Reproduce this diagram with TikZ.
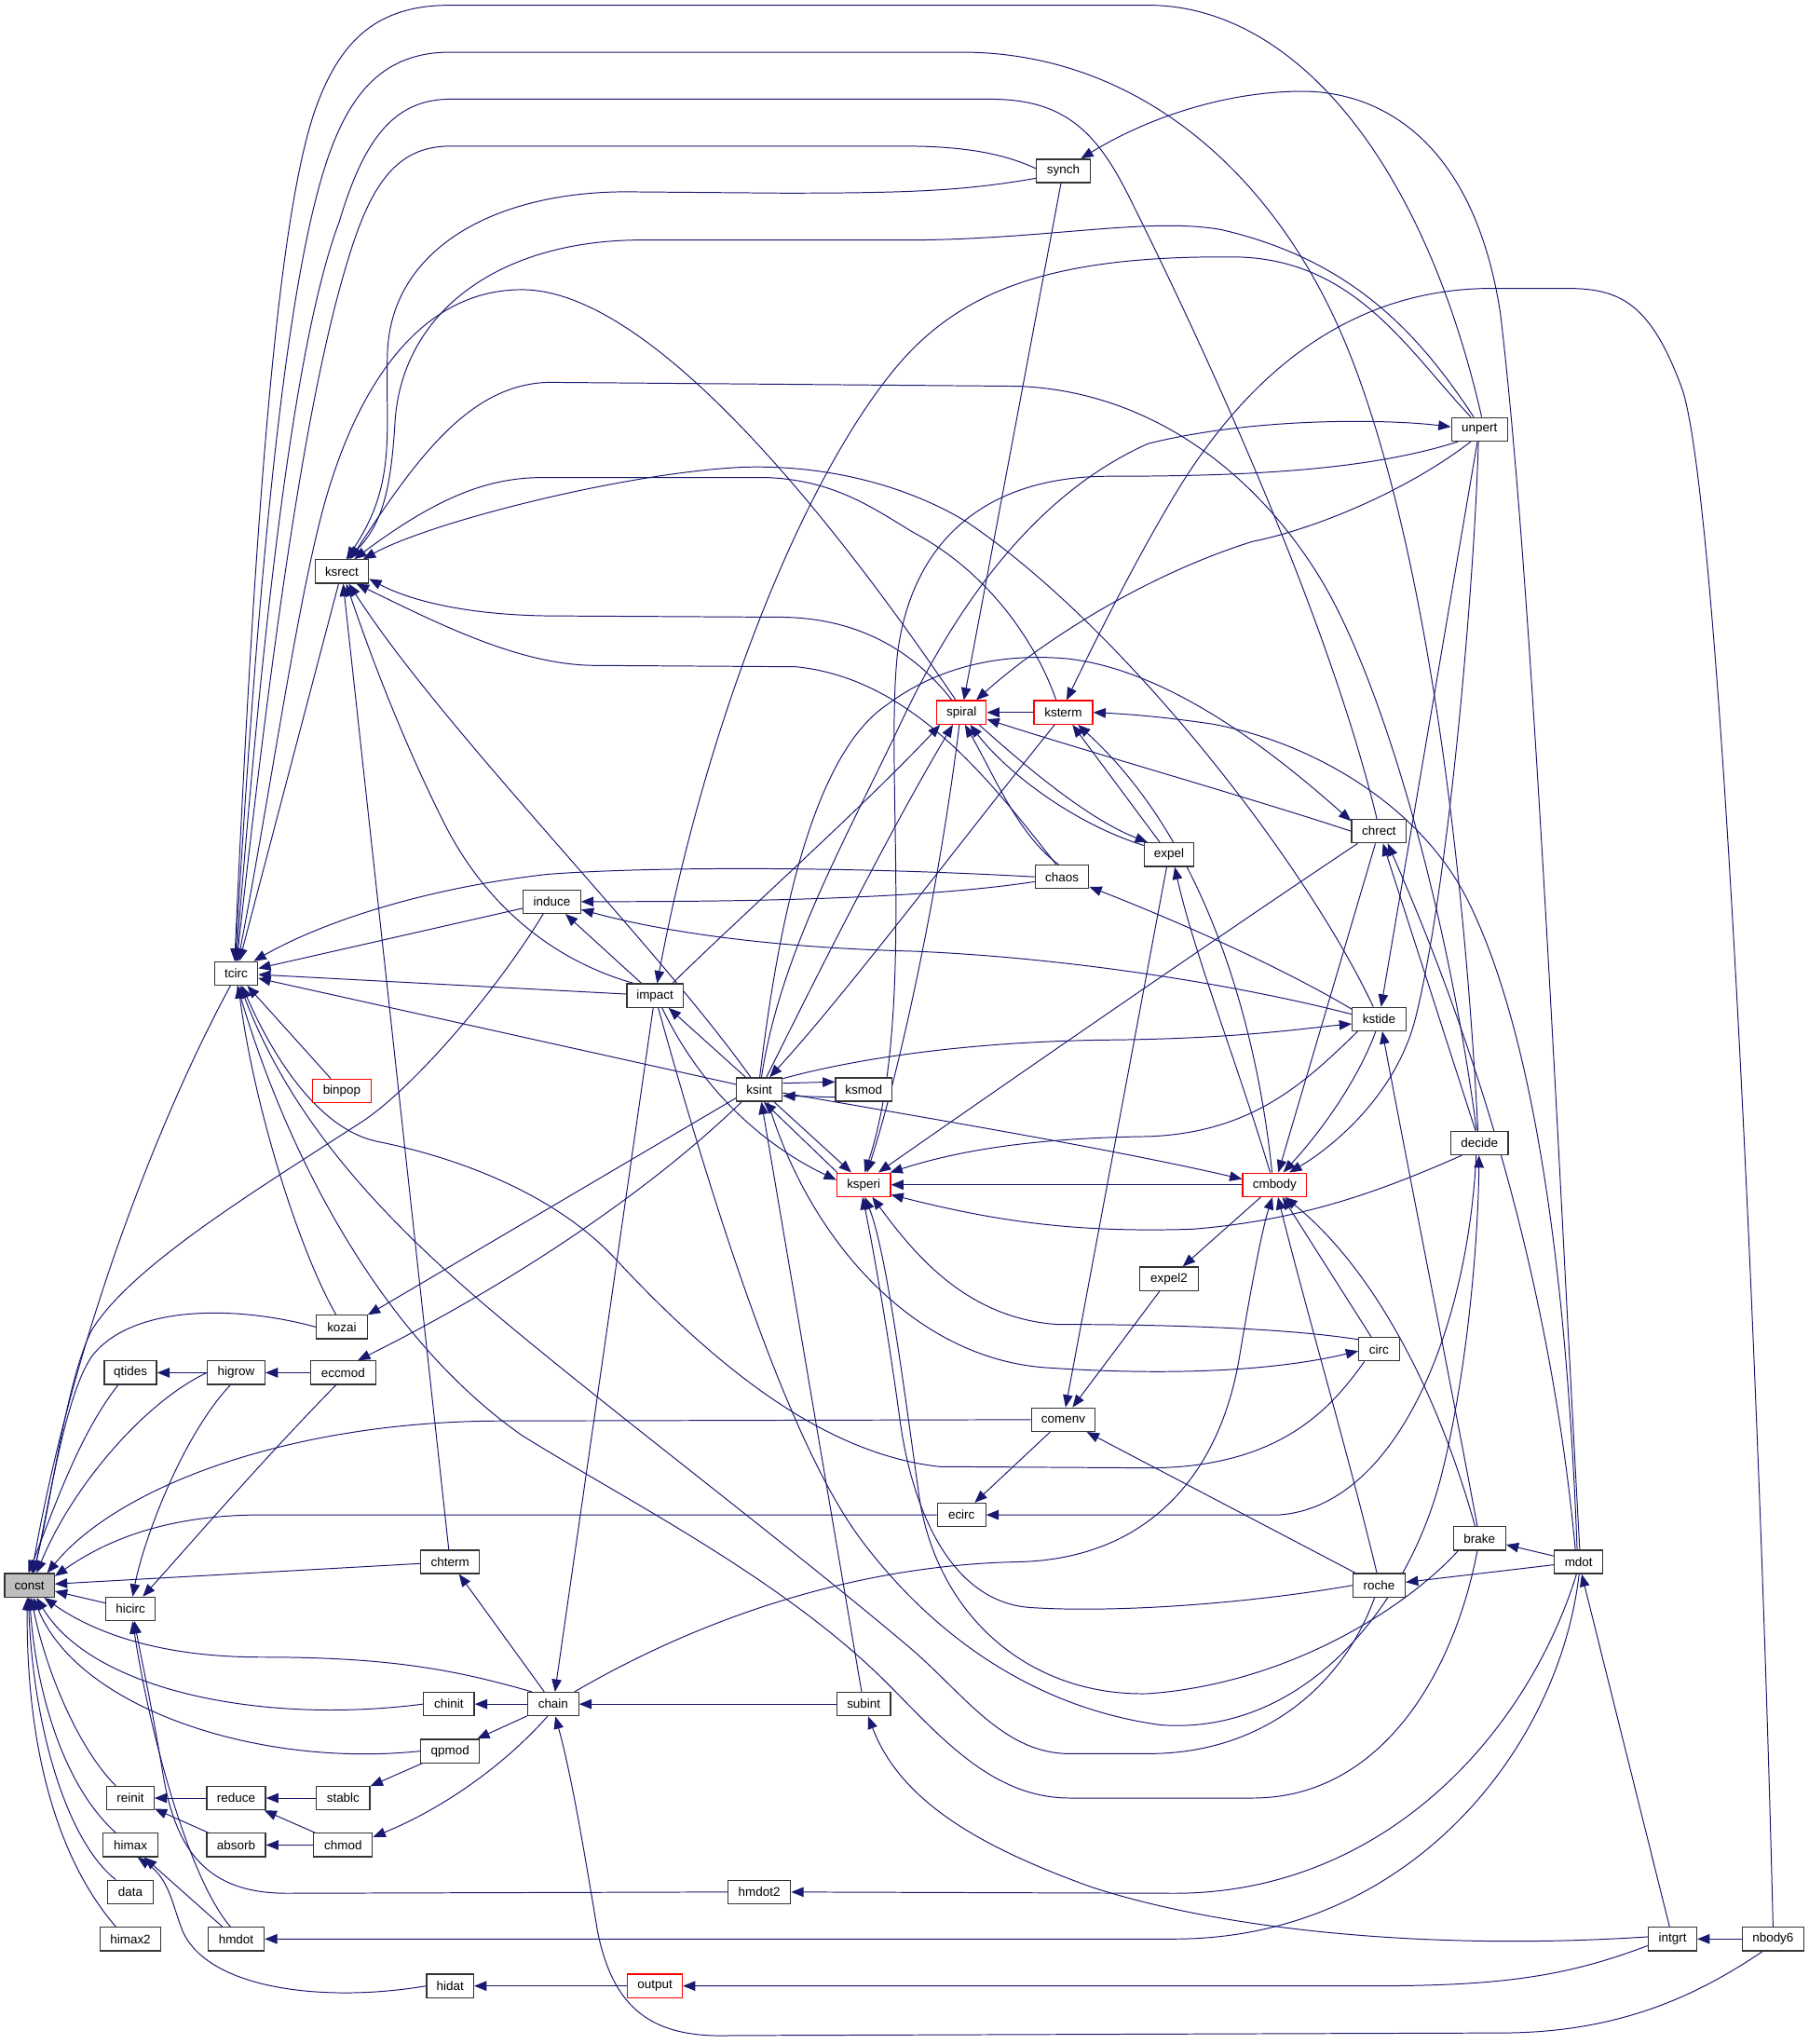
\documentclass[tikz,border=0pt]{standalone}
\usepackage{fontspec}
\setmainfont{Liberation Sans}
\usetikzlibrary{arrows.meta,backgrounds}
\definecolor{edgec}{HTML}{191970}
\definecolor{constfill}{HTML}{BFBFBF}
\begin{document}
\begin{tikzpicture}[x=1pt,y=-1pt,
  fn/.style={draw=black!80, fill=white, line width=0.9pt, minimum height=18pt, inner sep=0pt, font=\fontsize{9.6}{10}\selectfont, text=black},
  hl/.style={fn, draw=red},
  e/.style={draw=edgec, line width=0.7pt, -{Triangle[length=9.5pt,width=7.5pt]}}]
\useasboundingbox (0,0) rectangle (1386.4,1566.5);
% nodes
\node[fn, fill=constfill, minimum width=38pt] (const) at (22.6,1215) {const};
\node[fn, minimum width=33pt] (tcirc) at (181,746) {tcirc};
\node[fn, minimum width=41pt] (ksrect) at (262,438) {ksrect};
\node[fn, minimum width=41pt] (synch) at (815,131) {synch};
\node[fn, minimum width=43pt] (unpert) at (1134,329) {unpert};
\node[hl, minimum width=38pt] (spiral) at (737,546) {spiral};
\node[hl, minimum width=45pt] (ksterm) at (815,546) {ksterm};
\node[fn, minimum width=42pt] (chrect) at (1057,637) {chrect};
\node[fn, minimum width=38pt] (expel) at (896,655) {expel};
\node[fn, minimum width=41pt] (chaos) at (814,672) {chaos};
\node[fn, minimum width=44pt] (induce) at (423,691) {induce};
\node[fn, minimum width=43pt] (impact) at (502,763) {impact};
\node[fn, minimum width=41pt] (kstide) at (1057,781) {kstide};
\node[fn, minimum width=35pt] (ksint) at (582,835) {ksint};
\node[fn, minimum width=43pt] (ksmod) at (662,835) {ksmod};
\node[hl, minimum width=45pt] (binpop) at (262,836) {binpop};
\node[fn, minimum width=44pt] (decide) at (1134,876) {decide};
\node[hl, minimum width=41pt] (ksperi) at (662,908) {ksperi};
\node[hl, minimum width=49pt] (cmbody) at (977,908) {cmbody};
\node[fn, minimum width=45pt] (expel2) at (896,980) {expel2};
\node[fn, minimum width=39pt] (kozai) at (262,1017) {kozai};
\node[fn, minimum width=31pt] (circ) at (1057,1034) {circ};
\node[fn, minimum width=40pt] (qtides) at (100,1052) {qtides};
\node[fn, minimum width=44pt] (higrow) at (181,1052) {higrow};
\node[fn, minimum width=50pt] (eccmod) at (263,1052) {eccmod};
\node[fn, minimum width=49pt] (comenv) at (815,1088) {comenv};
\node[fn, minimum width=37pt] (ecirc) at (737,1161) {ecirc};
\node[fn, minimum width=45pt] (chterm) at (345,1197) {chterm};
\node[fn, minimum width=40pt] (brake) at (1134,1179) {brake};
\node[fn, minimum width=37pt] (mdot) at (1210,1197) {mdot};
\node[fn, minimum width=40pt] (roche) at (1057,1215) {roche};
\node[fn, minimum width=38pt] (hicirc) at (100,1233) {hicirc};
\node[fn, minimum width=39pt] (chinit) at (344,1306) {chinit};
\node[fn, minimum width=39pt] (chain) at (424,1306) {chain};
\node[fn, minimum width=41pt] (subint) at (662,1306) {subint};
\node[fn, minimum width=45pt] (qpmod) at (345,1342) {qpmod};
\node[fn, minimum width=36pt] (reinit) at (100,1378) {reinit};
\node[fn, minimum width=45pt] (reduce) at (181,1378) {reduce};
\node[fn, minimum width=41pt] (stablc) at (263,1378) {stablc};
\node[fn, minimum width=42pt] (himax) at (100,1414) {himax};
\node[fn, minimum width=45pt] (absorb) at (181,1414) {absorb};
\node[fn, minimum width=45pt] (chmod) at (263,1414) {chmod};
\node[fn, minimum width=35pt] (data) at (100,1450) {data};
\node[fn, minimum width=48pt] (hmdot2) at (582,1450) {hmdot2};
\node[fn, minimum width=46pt] (himax2) at (100,1486) {himax2};
\node[fn, minimum width=43pt] (hmdot) at (181,1486) {hmdot};
\node[fn, minimum width=37pt] (intgrt) at (1282,1486) {intgrt};
\node[fn, minimum width=47pt] (nbody6) at (1359,1486) {nbody6};
\node[fn, minimum width=36pt] (hidat) at (345,1522) {hidat};
\node[hl, minimum width=42pt] (output) at (502,1522) {output};

\begin{scope}[on background layer]
% ---- into const
\draw[e] (tcirc.-115) .. controls (120,860) and (55,1030) .. (const.80);
\draw[e] (kozai.west) .. controls (180,1000) and (100,1000) .. (70,1040) .. controls (50,1070) and (38,1150) .. (const.70);
\draw[e] (induce.-125) .. controls (380,760) and (320,830) .. (280,858) .. controls (200,910) and (100,970) .. (70,1020) .. controls (50,1060) and (38,1160) .. (const.75);
\draw[e] (qtides.-135) .. controls (60,1100) and (40,1160) .. (const.95);
\draw[e] (higrow.west) .. controls (110,1075) and (55,1140) .. (const.60);
\draw[e] (comenv.west) -- (380,1089) .. controls (220,1090) and (90,1140) .. (const.35);
\draw[e] (ecirc.west) -- (200,1161) .. controls (120,1161) and (75,1185) .. (const.20);
\draw[e] (chterm) -- (const);
\draw[e] (hicirc) -- (const);
\draw[e] (chain.150) .. controls (350,1280) and (300,1270) .. (200,1270) .. controls (120,1270) and (70,1250) .. (const.-40);
\draw[e] (chinit.west) .. controls (200,1322) and (70,1295) .. (const.-60);
\draw[e] (qpmod.west) .. controls (200,1355) and (60,1310) .. (const.-72);
\draw[e] (reinit.140) .. controls (60,1340) and (35,1280) .. (const.-82);
\draw[e] (himax.140) .. controls (50,1370) and (28,1300) .. (const.-90);
\draw[e] (data.140) .. controls (50,1410) and (25,1320) .. (const.-95);
\draw[e] (himax2.140) .. controls (40,1420) and (20,1330) .. (const.-100);
% ---- into tcirc
\draw[e] (unpert.80) .. controls (1090,120) and (990,4) .. (880,4) -- (345,4) .. controls (295,4) and (265,25) .. (245,75) .. controls (214,150) and (196,380) .. (tcirc.97);
\draw[e] (decide.97) .. controls (1120,620) and (1085,390) .. (1030,260) .. controls (975,130) and (870,40) .. (737,40) -- (345,40) .. controls (295,40) and (268,70) .. (250,125) .. controls (222,210) and (200,400) .. (tcirc.94);
\draw[e] (chrect.100) .. controls (1020,480) and (930,280) .. (865,150) .. controls (840,100) and (815,76) .. (759,76) -- (345,76) .. controls (300,76) and (278,110) .. (260,170) .. controls (230,250) and (205,430) .. (tcirc.90);
\draw[e] (synch.175) .. controls (770,118) and (740,112) .. (693,112) -- (345,112) .. controls (305,112) and (285,140) .. (268,195) .. controls (238,290) and (212,460) .. (tcirc.87);
\draw[e] (ksrect) -- (tcirc);
\draw[e] (spiral.115) .. controls (640,400) and (500,222) .. (400,222) .. controls (320,222) and (270,300) .. (245,400) .. controls (225,480) and (205,620) .. (tcirc.82);
\draw[e] (induce) -- (tcirc);
\draw[e] (chaos.west) .. controls (650,664) and (500,664) .. (420,670) .. controls (330,680) and (250,705) .. (tcirc.35);
\draw[e] (impact) -- (tcirc);
\draw[e] (ksint) -- (tcirc);
\draw[e] (binpop) -- (tcirc);
\draw[e] (kozai.115) .. controls (230,960) and (195,850) .. (tcirc.-80);
\draw[e] (circ.-140) .. controls (1020,1080) and (980,1125) .. (880,1125) -- (720,1124) .. controls (640,1115) and (560,1060) .. (471,964) .. controls (420,910) and (340,885) .. (290,875) .. controls (240,865) and (205,800) .. (tcirc.-65);
\draw[e] (roche.-110) .. controls (1030,1290) and (970,1344) .. (880,1344) -- (820,1344) .. controls (770,1344) and (740,1300) .. (700,1265) .. controls (600,1180) and (440,1060) .. (360,990) .. controls (280,920) and (220,850) .. (tcirc.-72);
\draw[e] (brake.-100) .. controls (1115,1280) and (1060,1378) .. (960,1378) -- (820,1378) .. controls (760,1378) and (720,1330) .. (680,1290) .. controls (600,1210) and (480,1150) .. (400,1100) .. controls (300,1030) and (225,900) .. (tcirc.-85);
% ---- into ksrect
\draw[e] (synch.195) .. controls (740,146) and (700,148) .. (600,148) -- (480,147) .. controls (380,147) and (300,190) .. (297,270) .. controls (295,330) and (305,370) .. (ksrect.70);
\draw[e] (unpert.115) .. controls (1090,260) and (1040,200) .. (936,176) .. controls (880,166) and (800,184) .. (693,184) -- (486,184) .. controls (380,186) and (310,240) .. (303,320) .. controls (300,370) and (295,400) .. (ksrect.65);
\draw[e] (decide.103) .. controls (1110,700) and (1060,520) .. (1010,440) .. controls (960,360) and (880,300) .. (781,296) -- (420,293) .. controls (360,295) and (320,350) .. (ksrect.55);
\draw[e] (ksterm.120) .. controls (795,495) and (760,440) .. (700,408) .. controls (670,390) and (640,368) .. (588,366) -- (415,366) .. controls (370,366) and (330,385) .. (ksrect.45);
\draw[e] (kstide.115) .. controls (1000,660) and (860,480) .. (741,400) .. controls (700,375) and (640,356) .. (570,358) .. controls (480,362) and (330,400) .. (ksrect.30);
\draw[e] (spiral.128) .. controls (705,505) and (665,474) .. (600,473) -- (420,472) .. controls (350,471) and (310,458) .. (ksrect.-15);
\draw[e] (chaos.115) .. controls (760,600) and (700,520) .. (610,511) -- (457,510) .. controls (400,510) and (340,480) .. (ksrect.-40);
\draw[e] (chterm) -- (ksrect);
\draw[e] (impact.150) .. controls (420,735) and (370,690) .. (340,630) .. controls (315,580) and (290,520) .. (ksrect.-70);
\draw[e] (ksint.125) .. controls (500,720) and (340,560) .. (ksrect.-60);
% ---- into spiral
\draw[e] (ksterm) -- (spiral);
\draw[e] (synch) -- (spiral);
\draw[e] (unpert.-125) .. controls (1080,375) and (1010,405) .. (960,415) .. controls (880,440) and (800,490) .. (spiral.40);
\draw[e] (chrect.west) .. controls (960,612) and (830,575) .. (spiral.-15);
\draw[e] (ksint.60) .. controls (620,760) and (680,640) .. (spiral.-125);
\draw[e] (impact.35) .. controls (570,700) and (660,620) .. (spiral.-150);
\draw[e] (expel.160) .. controls (820,630) and (770,590) .. (spiral.-55);
\draw[e] (chaos.105) .. controls (780,640) and (760,590) .. (spiral.-75);
\draw[e] (spiral.-100) .. controls (720,680) and (690,820) .. (ksperi.75);
% ---- ksterm
\draw[e] (nbody6.north) .. controls (1350,1100) and (1320,400) .. (1290,300) .. controls (1265,230) and (1240,221) .. (1200,221) -- (1144,221) .. controls (1040,221) and (960,280) .. (900,380) .. controls (870,430) and (840,490) .. (ksterm.75);
\draw[e] (mdot.97) .. controls (1198,900) and (1160,760) .. (1125,690) .. controls (1090,620) and (1010,570) .. (930,555) .. controls (890,549) and (860,547) .. (ksterm.east);
\draw[e] (expel) -- (ksterm);
\draw[e] (cmbody.102) .. controls (965,800) and (930,650) .. (ksterm.-40);
\draw[e] (ksterm.-125) .. controls (740,640) and (650,760) .. (ksint.50);
% ---- expel, chaos, induce
\draw[e] (spiral.-35) .. controls (800,600) and (840,630) .. (expel.150);
\draw[e] (cmbody.110) .. controls (950,820) and (915,730) .. (expel.-65);
\draw[e] (expel) -- (comenv);
\draw[e] (expel2) -- (comenv);
\draw[e] (cmbody) -- (expel2);
\draw[e] (kstide.160) .. controls (980,740) and (900,705) .. (chaos.-20);
\draw[e] (chaos.-170) .. controls (700,690) and (550,691) .. (induce.east);
\draw[e] (kstide.170) .. controls (950,755) and (820,734) .. (700,729) .. controls (580,726) and (500,712) .. (induce.-15);
\draw[e] (impact) -- (induce);
% ---- impact
\draw[e] (unpert.125) .. controls (1080,270) and (1040,200) .. (950,197) .. controls (800,195) and (730,225) .. (680,290) .. controls (610,380) and (540,560) .. (impact.80);
\draw[e] (ksint) -- (impact);
\draw[e] (impact.-60) .. controls (540,840) and (590,880) .. (ksperi.170);
\draw[e] (impact) -- (chain);
\draw[e] (impact.-75) .. controls (540,900) and (600,1100) .. (660,1180) .. controls (720,1260) and (800,1310) .. (890,1322) .. controls (1000,1330) and (1080,1230) .. (1105,1130) .. controls (1125,1050) and (1133,950) .. (decide.-92);
% ---- ksint
\draw[e] (ksint.15) -- (ksmod.165);
\draw[e] (ksmod.-165) -- (ksint.-15);
\draw[e] (ksint.-40) -- (ksperi.135);
\draw[e] (ksperi.155) -- (ksint.-70);
\draw[e] (subint) -- (ksint);
\draw[e] (ksint.25) .. controls (660,810) and (750,798) .. (850,797) .. controls (950,796) and (1000,788) .. (kstide.-170);
\draw[e] (ksint.-8) .. controls (700,855) and (850,880) .. (cmbody.170);
\draw[e] (ksint.-55) .. controls (620,950) and (700,1040) .. (800,1048) .. controls (900,1055) and (980,1050) .. (circ.-175);
\draw[e] (ksint.-145) .. controls (480,930) and (360,1000) .. (eccmod.40);
\draw[e] (ksint.-160) -- (kozai.25);
\draw[e] (ksint.80) .. controls (598,730) and (650,640) .. (690,555) .. controls (730,470) and (790,380) .. (880,340) .. controls (960,320) and (1060,321) .. (unpert.175);
\draw[e] (ksint.88) .. controls (595,720) and (620,580) .. (680,540) .. controls (720,510) and (770,500) .. (820,505) .. controls (900,515) and (980,580) .. (chrect.160);
% ---- ksperi
\draw[e] (unpert.-150) .. controls (1050,360) and (960,365) .. (850,365) .. controls (760,365) and (700,410) .. (688,500) .. controls (678,590) and (702,780) .. (ksperi.85);
\draw[e] (kstide.-150) .. controls (1000,830) and (960,868) .. (880,871) .. controls (800,872) and (740,880) .. (ksperi.25);
\draw[e] (cmbody) -- (ksperi);
\draw[e] (decide.-145) .. controls (1060,912) and (1000,935) .. (914,942) .. controls (820,945) and (760,935) .. (ksperi.-20);
\draw[e] (circ.155) .. controls (980,1017) and (880,1015) .. (810,1015) .. controls (740,1010) and (700,960) .. (ksperi.-55);
\draw[e] (roche.west) .. controls (950,1230) and (850,1236) .. (790,1232) .. controls (730,1228) and (700,1160) .. (690,1090) .. controls (682,1030) and (670,960) .. (ksperi.-95);
\draw[e] (brake.-150) .. controls (1080,1230) and (990,1290) .. (880,1298) .. controls (790,1300) and (720,1240) .. (705,1150) .. controls (695,1080) and (680,960) .. (ksperi.-85);
\draw[e] (chrect.-150) .. controls (960,700) and (800,810) .. (ksperi.40);
% ---- cmbody
\draw[e] (chrect) -- (cmbody);
\draw[e] (kstide.-105) .. controls (1040,830) and (1010,870) .. (cmbody.55);
\draw[e] (unpert.-95) .. controls (1130,450) and (1110,680) .. (1085,780) .. controls (1070,840) and (1020,880) .. (cmbody.40);
\draw[e] (chain.30) .. controls (520,1250) and (640,1200) .. (780,1197) .. controls (880,1195) and (935,1130) .. (950,1040) .. controls (960,980) and (968,940) .. (cmbody.-100);
\draw[e] (roche.100) .. controls (1035,1120) and (1000,1000) .. (cmbody.-75);
\draw[e] (circ) -- (cmbody);
\draw[e] (brake.110) .. controls (1100,1060) and (1050,970) .. (cmbody.-50);
% ---- kstide, chrect, decide
\draw[e] (unpert) -- (kstide);
\draw[e] (brake.100) .. controls (1110,1050) and (1080,900) .. (kstide.-75);
\draw[e] (decide) -- (chrect);
\draw[e] (mdot.105) .. controls (1190,1000) and (1140,820) .. (chrect.-55);
\draw[e] (decide.-105) .. controls (1125,1020) and (1070,1155) .. (980,1161) -- (ecirc.east);
% ---- comenv, mdot
\draw[e] (roche) -- (comenv);
\draw[e] (comenv) -- (ecirc);
\draw[e] (mdot) -- (brake);
\draw[e] (mdot) -- (roche);
\draw[e] (mdot.85) .. controls (1195,900) and (1175,450) .. (1150,240) .. controls (1130,110) and (1060,70) .. (998,70) .. controls (940,70) and (880,90) .. (synch.35);
\draw[e] (mdot.-100) .. controls (1170,1330) and (1060,1451) .. (900,1451) -- (hmdot2.east);
\draw[e] (mdot.-88) .. controls (1195,1340) and (1080,1486) .. (900,1486) -- (hmdot.east);
% ---- intgrt, nbody6
\draw[e] (intgrt) -- (mdot);
\draw[e] (intgrt.175) .. controls (1100,1495) and (940,1480) .. (836,1446) .. controls (750,1415) and (690,1380) .. (subint.-70);
\draw[e] (intgrt.-165) .. controls (1200,1515) and (1150,1522) .. (1050,1522) -- (output.east);
\draw[e] (nbody6) -- (intgrt);
\draw[e] (nbody6.-130) .. controls (1300,1530) and (1240,1558) .. (1150,1558) -- (560,1560) .. controls (500,1562) and (470,1540) .. (458,1480) .. controls (448,1420) and (438,1360) .. (chain.-80);
% ---- chain and lower left
\draw[e] (subint) -- (chain);
\draw[e] (chain) -- (chterm);
\draw[e] (chain) -- (chinit);
\draw[e] (chain) -- (qpmod);
\draw[e] (chain.-115) .. controls (380,1360) and (330,1390) .. (chmod.15);
\draw[e] (qpmod) -- (stablc);
\draw[e] (stablc) -- (reduce);
\draw[e] (chmod) -- (reduce);
\draw[e] (chmod) -- (absorb);
\draw[e] (reduce) -- (reinit);
\draw[e] (absorb) -- (reinit);
\draw[e] (eccmod) -- (higrow);
\draw[e] (higrow) -- (qtides);
\draw[e] (eccmod.-120) .. controls (200,1120) and (140,1190) .. (hicirc.45);
\draw[e] (higrow.-115) .. controls (140,1100) and (110,1180) .. (hicirc.80);
\draw[e] (hmdot.115) .. controls (145,1440) and (115,1330) .. (hicirc.-80);
\draw[e] (hmdot2.west) -- (220,1451) .. controls (160,1451) and (135,1420) .. (125,1360) .. controls (115,1300) and (108,1270) .. (hicirc.-72);
\draw[e] (hmdot) -- (himax);
\draw[e] (hidat.west) .. controls (250,1535) and (160,1525) .. (140,1480) .. controls (132,1460) and (130,1440) .. (himax.-60);
\draw[e] (output) -- (hidat);
\end{scope}
\end{tikzpicture}
\end{document}
